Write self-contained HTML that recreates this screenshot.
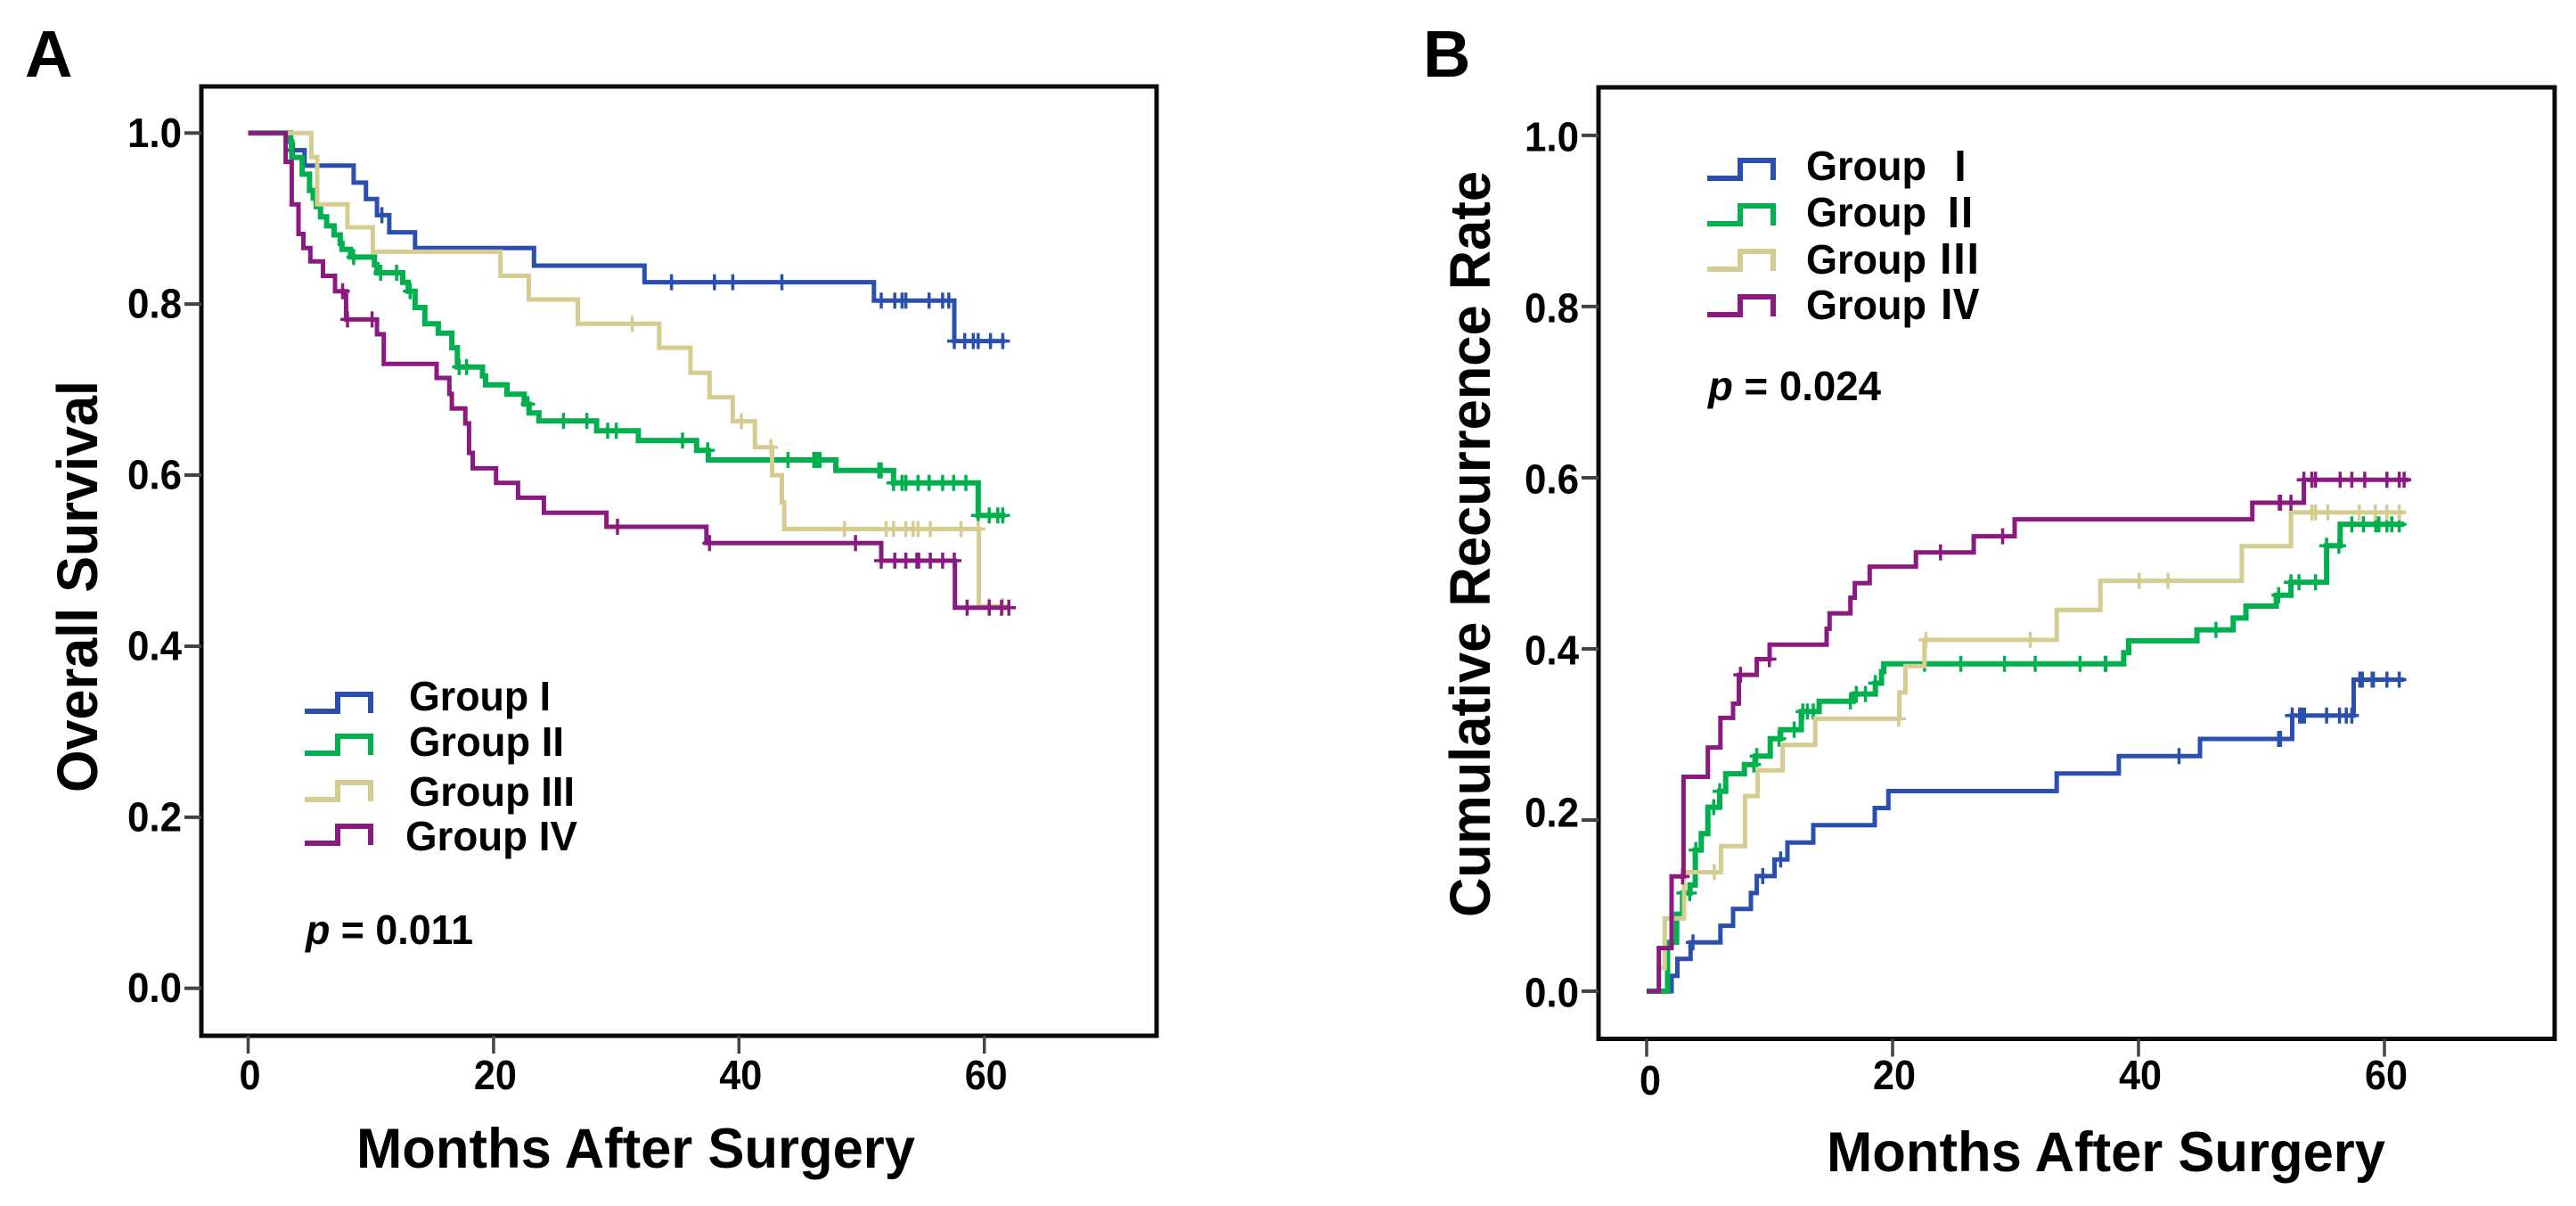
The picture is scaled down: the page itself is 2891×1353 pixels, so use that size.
<!DOCTYPE html>
<html lang="en">
<head>
<meta charset="utf-8">
<title>Overall Survival and Cumulative Recurrence Rate</title>
<style>
html,body{margin:0;padding:0;background:#fff;width:2891px;height:1353px;overflow:hidden}
svg{display:block}
text{font-family:"Liberation Sans","Noto Sans CJK SC",sans-serif;font-weight:700;fill:#000}
</style>
</head>
<body>
<svg id="figure" xmlns="http://www.w3.org/2000/svg" width="2891" height="1353" viewBox="0 0 2891 1353">
  <rect width="2891" height="1353" fill="#fff"/>
  <text x="28" y="86" font-size="74">A</text>
  <text x="1597" y="86" font-size="74">B</text>

  <g id="panel-a"></g>
  <g id="panel-b"></g>

  <text transform="translate(109,889) rotate(-90)" font-size="64" textLength="462" lengthAdjust="spacingAndGlyphs">Overall Survival</text>
  <text x="400" y="1310" font-size="63" textLength="627" lengthAdjust="spacingAndGlyphs">Months After Surgery</text>
  <text transform="translate(1672,1029) rotate(-90)" font-size="64" textLength="837" lengthAdjust="spacingAndGlyphs">Cumulative Recurrence Rate</text>
  <text x="2050" y="1314" font-size="63" textLength="627" lengthAdjust="spacingAndGlyphs">Months After Surgery</text>

  <g>
    <text x="459" y="797" font-size="46" textLength="159" lengthAdjust="spacingAndGlyphs">Group I</text>
    <text x="459" y="848" font-size="46" textLength="174" lengthAdjust="spacingAndGlyphs">Group II</text>
    <text x="459" y="904" font-size="46" textLength="186" lengthAdjust="spacingAndGlyphs">Group III</text>
    <text x="455" y="954" font-size="46" textLength="193" lengthAdjust="spacingAndGlyphs">Group IV</text>
  </g>
  <text x="343" y="1059" font-size="46" textLength="188" lengthAdjust="spacingAndGlyphs"><tspan font-style="italic">p</tspan> = 0.011</text>

  <g>
    <text x="2027" y="202" font-size="46" textLength="135" lengthAdjust="spacingAndGlyphs">Group</text>
    <text x="2200" y="203" font-size="46" text-anchor="middle" style="font-weight:700;font-family:'Noto Sans CJK SC',sans-serif">Ⅰ</text>
    <text x="2027" y="254" font-size="46" textLength="135" lengthAdjust="spacingAndGlyphs">Group</text>
    <text x="2200" y="255" font-size="46" text-anchor="middle" style="font-weight:700;font-family:'Noto Sans CJK SC',sans-serif">Ⅱ</text>
    <text x="2027" y="307" font-size="46" textLength="135" lengthAdjust="spacingAndGlyphs">Group</text>
    <text x="2199" y="307" font-size="46" text-anchor="middle" style="font-weight:700;font-family:'Noto Sans CJK SC',sans-serif">Ⅲ</text>
    <text x="2027" y="358" font-size="46" textLength="135" lengthAdjust="spacingAndGlyphs">Group</text>
    <text x="2199" y="358" font-size="46" text-anchor="middle" style="font-weight:700;font-family:'Noto Sans CJK SC',sans-serif">Ⅳ</text>
  </g>
  <text x="1917" y="449" font-size="46" textLength="194" lengthAdjust="spacingAndGlyphs"><tspan font-style="italic">p</tspan> = 0.024</text>
</svg>

<script>
// Shared axis ticks
const monthTicks = [0, 20, 40, 60];
const monthTickLabels = ['0', '20', '40', '60'];
const rateTicks = [0, 0.2, 0.4, 0.6, 0.8, 1.0];
const rateTickLabels = ['0.0', '0.2', '0.4', '0.6', '0.8', '1.0'];
const groupNames = ['group-1', 'group-2', 'group-3', 'group-4'];

// Panel A: Overall survival (step month, level after the step, censored months, last month)
const a1Months = [3.5, 4.6, 8.6, 9.6, 10.5, 11.5, 13.6, 23.3, 32.3, 51.0, 57.55];
const a1Values = [0.98, 0.962, 0.942, 0.923, 0.904, 0.884, 0.8655, 0.845, 0.8256, 0.804, 0.7568];
const a1Censored = [3.7, 10.9, 34.5, 38.0, 39.5, 43.5, 51.6, 52.7, 53.3, 53.6, 55.5, 56.6, 57.1, 57.55, 58.4, 59.1, 59.5, 60.5, 61.5];
const a1End = 61.7;

const a2Months = [3.45, 3.55, 4.4, 5.0, 5.3, 5.55, 5.9, 6.4, 7.0, 7.5, 7.65, 8.35, 10.3, 10.5, 12.6, 13.05, 13.6, 14.4, 15.5, 16.6, 17.05, 19.1, 19.35, 21.1, 22.5, 22.9, 23.7, 28.4, 31.8, 36.55, 37.5, 47.9, 52.6, 59.5];
const a2Values = [0.99, 0.9715, 0.952, 0.933, 0.924, 0.914, 0.902, 0.8915, 0.881, 0.871, 0.864, 0.855, 0.846, 0.8367, 0.8255, 0.815, 0.796, 0.777, 0.766, 0.749, 0.7265, 0.716, 0.7057, 0.6946, 0.683, 0.6727, 0.6633, 0.652, 0.6404, 0.629, 0.6178, 0.6056, 0.591, 0.5528];
const a2Censored = [8.6, 10.8, 12.1, 13.2, 17.2, 17.8, 22.8, 25.7, 27.6, 29.3, 30.0, 35.4, 37.45, 44.0, 46.1, 46.35, 46.6, 51.4, 51.6, 52.6, 53.3, 53.6, 54.6, 55.5, 56.6, 57.5, 58.5, 59.5, 60.4, 61.1, 61.5];
const a2End = 61.7;

const a3Months = [5.15, 5.63, 8.1, 10.16, 20.57, 22.87, 26.87, 33.5, 36.05, 37.6, 39.5, 41.3, 42.7, 43.5, 43.7, 59.55];
const a3Values = [0.972, 0.9166, 0.8898, 0.8613, 0.833, 0.8054, 0.777, 0.749, 0.7196, 0.691, 0.663, 0.6327, 0.6, 0.568, 0.537, 0.4468];
const a3Censored = [31.3, 40.2, 42.6, 48.6, 52.0, 52.6, 53.6, 54.2, 54.6, 55.6, 58.1, 59.5, 60.4, 61.5];
const a3End = 61.7;

const a4Months = [3.06, 3.55, 4.1, 4.5, 5.07, 6.1, 7.08, 7.98, 10.5, 11.05, 15.36, 16.4, 16.6, 17.7, 18.0, 18.3, 20.2, 22.0, 24.1, 29.2, 37.35, 51.6, 57.6];
const a4Values = [0.9663, 0.9166, 0.882, 0.8656, 0.85, 0.833, 0.815, 0.782, 0.7647, 0.73, 0.7137, 0.695, 0.678, 0.6605, 0.626, 0.608, 0.591, 0.5736, 0.556, 0.5396, 0.5205, 0.5, 0.445];
const a4Censored = [7.7, 8.1, 10.1, 30.1, 37.6, 49.5, 51.6, 52.7, 53.6, 54.5, 54.65, 55.6, 56.6, 57.55, 58.6, 60.4, 61.4, 62.0];
const a4End = 62.0;

// Panel B: Cumulative recurrence rate
const b1Months = [2.03, 2.5, 3.57, 6.0, 7.03, 8.48, 8.96, 10.4, 11.45, 13.55, 18.55, 19.66, 33.35, 38.4, 45.0, 52.5, 57.5];
const b1Values = [0.018, 0.0378, 0.057, 0.0765, 0.096, 0.1147, 0.1345, 0.1538, 0.1736, 0.194, 0.214, 0.2338, 0.2545, 0.2747, 0.2948, 0.3222, 0.364];
const b1Censored = [3.77, 9.44, 10.9, 43.3, 51.4, 51.55, 52.5, 53.1, 53.3, 53.5, 55.3, 56.35, 56.9, 57.35, 58.0, 58.2, 59.0, 59.1, 60.2, 61.2];
const b1End = 61.6;

const b2Months = [1.7, 2.44, 2.92, 3.53, 3.96, 4.44, 4.98, 5.94, 6.43, 7.95, 8.84, 10.05, 10.9, 12.58, 14.03, 16.8, 18.6, 19.1, 19.28, 38.8, 39.2, 44.75, 47.7, 48.74, 51.2, 52.4, 55.3, 56.4];
const b2Values = [0.057, 0.09, 0.1147, 0.124, 0.165, 0.184, 0.215, 0.2335, 0.254, 0.2648, 0.2748, 0.295, 0.3056, 0.3268, 0.3388, 0.3473, 0.36, 0.3734, 0.3826, 0.3955, 0.4094, 0.4222, 0.436, 0.45, 0.4628, 0.4778, 0.5205, 0.5455];
const b2Censored = [3.0, 3.5, 4.0, 5.46, 5.94, 8.72, 8.96, 10.77, 12.0, 12.7, 13.07, 13.55, 16.57, 17.05, 17.8, 18.6, 22.6, 25.55, 29.1, 31.6, 35.25, 37.3, 37.35, 46.3, 51.4, 52.4, 53.05, 54.4, 55.3, 56.3, 57.35, 58.3, 59.3, 59.55, 60.2, 60.6, 61.2];
const b2End = 61.6;

const b3Months = [0.99, 1.47, 3.04, 6.06, 8.0, 9.03, 11.06, 13.72, 20.55, 21.04, 22.6, 33.35, 36.9, 48.4, 52.4];
const b3Values = [0.027, 0.085, 0.139, 0.1695, 0.228, 0.258, 0.2878, 0.3183, 0.349, 0.38, 0.4105, 0.4455, 0.4795, 0.52, 0.5594];
const b3Censored = [5.5, 20.5, 22.7, 31.2, 40.05, 42.4, 54.1, 54.4, 55.4, 57.95, 59.25, 60.2, 61.2];
const b3End = 61.6;

const b4Months = [0.99, 2.03, 3.0, 4.98, 6.0, 7.03, 7.5, 8.96, 10.0, 14.64, 14.88, 16.57, 16.93, 18.14, 21.9, 26.6, 29.93, 49.25, 53.45];
const b4Values = [0.0504, 0.134, 0.2505, 0.2848, 0.3193, 0.336, 0.3696, 0.388, 0.405, 0.4235, 0.4415, 0.4597, 0.4767, 0.496, 0.5128, 0.5316, 0.5514, 0.5708, 0.5976];
const b4Censored = [2.92, 7.63, 9.98, 23.9, 28.95, 51.45, 51.55, 52.4, 53.45, 54.1, 54.4, 56.4, 57.35, 58.4, 60.2, 61.2, 61.6];
const b4End = 62.0;

const SVG_NS = 'http://www.w3.org/2000/svg';
const groupColors = ['#2a4fae', '#00b04f', '#d5cc90', '#8a1a80'];
const groupWidths = [5, 6, 5, 5];

function make(tag, attrs, parent) {
  const el = document.createElementNS(SVG_NS, tag);
  for (const k in attrs) el.setAttribute(k, attrs[k]);
  parent.appendChild(el);
  return el;
}

function levelAt(months, values, startValue, m) {
  let v = startValue;
  for (let i = 0; i < months.length; i++) {
    if (months[i] <= m) v = values[i];
  }
  return v;
}

function drawPanel(cfg) {
  const g = document.getElementById(cfg.id);
  const x = m => cfg.x0 + (m - 0) * cfg.pxPerMonth;
  const y = v => cfg.y0 - v * cfg.pxPerUnit;

  // series
  cfg.series.forEach((s, idx) => {
    const color = groupColors[idx];
    const sg = make('g', {}, g);
    
    
    let d = 'M' + x(0).toFixed(1) + ' ' + y(cfg.startValue).toFixed(1);
    s.months.forEach((m, i) => {
      d += 'H' + x(m).toFixed(1) + 'V' + y(s.values[i]).toFixed(1);
    });
    d += 'H' + x(s.end).toFixed(1);
    const line = make('path', { d: d, fill: 'none', stroke: color, 'stroke-width': groupWidths[idx], 'stroke-linejoin': 'miter' }, sg);
    
    
    s.censored.forEach(m => {
      const cx = x(m);
      const cy = y(levelAt(s.months, s.values, cfg.startValue, m));
      const mark = make('path', { d: 'M' + cx.toFixed(1) + ' ' + (cy - 9).toFixed(1) + 'v18M' + (cx - 8).toFixed(1) + ' ' + cy.toFixed(1) + 'h16', stroke: color, 'stroke-width': 3.5, fill: 'none' }, sg);
      
      
    });
  });

  // frame
  const frame = make('rect', { x: cfg.left, y: cfg.top, width: cfg.right - cfg.left, height: cfg.bottom - cfg.top, fill: 'none', stroke: '#0c0c0c', 'stroke-width': 5 }, g);
  
  

  // y axis
  rateTicks.forEach((t, i) => {
    const tick = make('line', { x1: cfg.left - 19, x2: cfg.left, y1: y(t), y2: y(t), stroke: '#444', 'stroke-width': 4 }, g);
    
    
    const label = make('text', { x: cfg.left - 22, y: y(t) + cfg.yLabelDy + (cfg.yLabelNudge[t] || 0), 'font-size': 46, 'text-anchor': 'end', textLength: 61, lengthAdjust: 'spacingAndGlyphs' }, g);
    
    
    label.textContent = rateTickLabels[i];
  });

  // x axis
  monthTicks.forEach((t, i) => {
    const tick = make('line', { x1: x(t), x2: x(t), y1: cfg.bottom, y2: cfg.bottom + 20, stroke: '#444', 'stroke-width': 3.5 }, g);
    
    
    const label = make('text', { x: x(t) + 2 + (t === 0 ? cfg.zeroDx : 0), y: cfg.xLabelY + (t === 0 ? cfg.zeroDy : 0), 'font-size': 46, 'text-anchor': 'middle', textLength: 24 * monthTickLabels[i].length, lengthAdjust: 'spacingAndGlyphs' }, g);
    
    
    label.textContent = monthTickLabels[i];
  });

  // legend swatches
  cfg.legendLows.forEach((low, i) => {
    const top = low - cfg.legendRise;
    const d = 'M' + cfg.legendX + ' ' + low + 'H' + (cfg.legendX + 37) + 'V' + top + 'H' + (cfg.legendX + 74) + 'V' + (low + 2);
    const sw = make('path', { d: d, fill: 'none', stroke: groupColors[i], 'stroke-width': 6 }, g);
    
    
  });
}

drawPanel({
  id: 'panel-a', key: 'a', startValue: 1,
  x0: 278.5, pxPerMonth: 13.77, y0: 1108.7, pxPerUnit: 959.4,
  left: 226, right: 1298, top: 97, bottom: 1162,
  yLabelDy: 15.5, yLabelNudge: {}, xLabelY: 1222, zeroDx: 0, zeroDy: 0,
  legendX: 342, legendRise: 19, legendLows: [798, 845, 897, 946],
  series: [
    { months: a1Months, values: a1Values, censored: a1Censored, end: a1End },
    { months: a2Months, values: a2Values, censored: a2Censored, end: a2End },
    { months: a3Months, values: a3Values, censored: a3Censored, end: a3End },
    { months: a4Months, values: a4Values, censored: a4Censored, end: a4End }
  ]
});

drawPanel({
  id: 'panel-b', key: 'b', startValue: 0,
  x0: 1848, pxPerMonth: 13.8, y0: 1112, pxPerUnit: 960.1,
  left: 1794, right: 2867, top: 98, bottom: 1165.5,
  yLabelDy: 17.5, yLabelNudge: { 0.2: -10 }, xLabelY: 1222, zeroDx: 2, zeroDy: 6,
  legendX: 1916, legendRise: 20, legendLows: [200, 251, 302, 353],
  series: [
    { months: b1Months, values: b1Values, censored: b1Censored, end: b1End },
    { months: b2Months, values: b2Values, censored: b2Censored, end: b2End },
    { months: b3Months, values: b3Values, censored: b3Censored, end: b3End },
    { months: b4Months, values: b4Values, censored: b4Censored, end: b4End }
  ]
});
</script>
</body>
</html>
